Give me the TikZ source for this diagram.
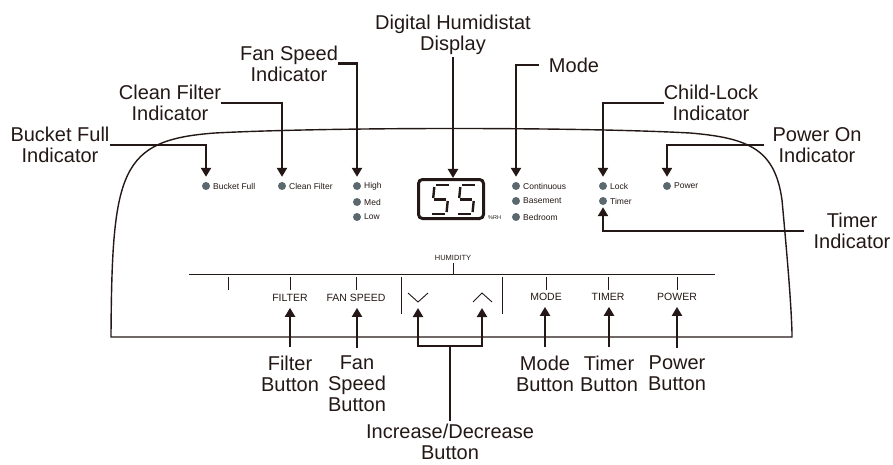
\documentclass[tikz,border=0pt]{standalone}
\usepackage{fontspec}
\setmainfont{Liberation Sans}
\usetikzlibrary{arrows.meta}
\definecolor{ink}{RGB}{35,24,21}
\definecolor{dotgray}{RGB}{92,104,112}
\begin{document}
\begin{tikzpicture}[x=1pt,y=-1pt,
  lbl/.style={font=\fontsize{20}{21}\selectfont, align=center, inner sep=0pt, text=ink},
  sml/.style={font=\fontsize{8.5}{10}\selectfont, inner sep=0pt, anchor=west, text=ink},
  btn/.style={font=\fontsize{10.5}{12}\selectfont, inner sep=0pt, text=ink},
  dot/.style={circle, fill=dotgray, minimum size=8pt, inner sep=0pt},
  lead/.style={draw=ink, line width=2.5pt, -{Triangle[width=10pt,length=9pt]}},
  leadline/.style={draw=ink, line width=2.5pt},
  panel/.style={draw=ink, line width=1.4pt},
  fine/.style={draw=ink, line width=0.9pt},
  seg/.style={draw=ink, line width=2.4pt},
]
\useasboundingbox (0,0) rectangle (893,465);

% panel outline
\draw[panel] (111,336) .. controls (112,170) and (120,140) .. (215,133)
  .. controls (330,127) and (580,127) .. (690,133)
  .. controls (750,138) and (775,150) .. (782,200)
  .. controls (787,255) and (791,300) .. (792,333) -- (792,337) -- (111,337) -- cycle;

% top labels
\node[lbl] (dhl) at (453,35) {Digital Humidistat\\Display};
\node[lbl] (fsl) at (289,63.5) {Fan Speed\\Indicator};
\node[lbl] (cfl) at (170,103) {Clean Filter\\Indicator};
\node[lbl] (bfl) at (60,145) {Bucket Full\\Indicator};
\node[lbl] (model) at (574,65) {Mode};
\node[lbl] (cll) at (711,103) {Child-Lock\\Indicator};
\node[lbl] (pol) at (817,145) {Power On\\Indicator};
\node[lbl] (til) at (852,231) {Timer\\Indicator};

% indicator dots
\node[dot] (bfd) at (206,186) {};
\node[sml] (bft) at ([xshift=7pt]bfd.center) {Bucket Full};
\node[dot] (cfd) at (282,186) {};
\node[sml] (cft) at ([xshift=7pt]cfd.center) {Clean Filter};
\node[dot] (hid) at (357,186) {};
\node[sml] (hit) at ([xshift=7pt]hid.center) {High};
\node[dot] (med) at (357,202) {};
\node[sml] (met) at ([xshift=7pt]med.center) {Med};
\node[dot] (lwd) at (357,217) {};
\node[sml] (lwt) at ([xshift=7pt]lwd.center) {Low};
\node[dot] (cod) at (516,186) {};
\node[sml] (cot) at ([xshift=7pt]cod.center) {Continuous};
\node[dot] (bad) at (516,201) {};
\node[sml] (bat) at ([xshift=7pt]bad.center) {Basement};
\node[dot] (bed) at (516,217) {};
\node[sml] (bet) at ([xshift=7pt]bed.center) {Bedroom};
\node[dot] (lod) at (603,186) {};
\node[sml] (lot) at ([xshift=7pt]lod.center) {Lock};
\node[dot] (tid) at (603,201) {};
\node[sml] (tit) at ([xshift=7pt]tid.center) {Timer};
\node[dot] (pod) at (667,186) {};
\node[sml] (pot) at ([xshift=7pt]pod.center) {Power};

% display
\node[draw=ink, line width=3pt, rounded corners=4pt, minimum width=65pt, minimum height=39pt, inner sep=0pt] (disp) at (451,199) {};
\node[font=\fontsize{5.5}{6}\selectfont, anchor=west, inner sep=0pt, text=ink] (rh) at (488,218) {\%RH};
\foreach \dx in {431,457}{
  \begin{scope}[shift={(\dx,214)}, xslant=0.1]
    \draw[seg] (2,-29) -- (15,-29);
    \draw[seg] (0.6,-27) -- (0.6,-16);
    \draw[seg] (2,-14.5) -- (14,-14.5);
    \draw[seg] (15.4,-13) -- (15.4,-2);
    \draw[seg] (1,0) -- (14,0);
  \end{scope}
}

% leaders to indicators
\draw[lead, shorten >=5pt] (bfl.east) -| (bfd.north);
\draw[lead, shorten >=5pt] (cfl.east) -| (cfd.north);
\draw[lead, shorten >=5pt] (fsl.east) -| (hid.north);
\draw[lead] ([yshift=-2pt]dhl.south) -- (dhl.south |- disp.north);
\draw[lead, shorten >=5pt] ([xshift=-10pt]model.west) -| (cod.north);
\draw[lead, shorten >=5pt] (cll.west) -| (lod.north);
\draw[lead, shorten >=5pt] ([xshift=-8pt]pol.west) -| (pod.north);
\draw[lead, shorten >=2pt] ([xshift=-9pt]til.west) -| (tid.south);

% control strip
\draw[fine] (189,274) -- (715,274);
\node[font=\fontsize{7.5}{9}\selectfont, inner sep=0pt, text=ink] (hum) at (453,258) {HUMIDITY};
\draw[fine] (453,263) -- (453,274);
\foreach \tx in {228,290,356,546,608,677}{ \draw[fine] (\tx,277) -- (\tx,290); }
\draw[fine] (401,277) -- (401,314);
\draw[fine] (502,277) -- (502,314);
\node[btn] (filt) at (290,298) {FILTER};
\node[btn] (fans) at (356,298) {FAN SPEED};
\node[btn] (modb) at (546,297) {MODE};
\node[btn] (timb) at (608,297) {TIMER};
\node[btn] (powb) at (677,297) {POWER};
\coordinate (dnc) at (418,302);
\coordinate (upc) at (482,302);
\draw[fine] (408,293) -- (dnc) -- (428,293);
\draw[fine] (473,302) -- (482,293) -- (492,302);

% bottom labels
\node[lbl] (fbl) at (290,373.5) {Filter\\Button};
\node[lbl] (fsbl) at (357,384) {Fan\\Speed\\Button};
\node[lbl] (idl) at (450,442) {Increase/Decrease\\Button};
\node[lbl] (mbl) at (545,373.5) {Mode\\Button};
\node[lbl] (tbl) at (609,373.5) {Timer\\Button};
\node[lbl] (pbl) at (677,373.5) {Power\\Button};

% leaders to buttons
\draw[lead, shorten >=6pt] ([yshift=8pt]fbl.north) -- (fbl.north |- filt.south);
\draw[lead, shorten >=6pt] ([yshift=8pt]fsbl.north) -- (fsbl.north |- fans.south);
\draw[lead, shorten >=6pt] ([yshift=8pt]mbl.north) -- (mbl.north |- modb.south);
\draw[lead, shorten >=6pt] ([yshift=8pt]tbl.north) -- (tbl.north |- timb.south);
\draw[lead, shorten >=6pt] ([yshift=8pt]pbl.north) -- (pbl.north |- powb.south);
\coordinate (junc) at (450,346);
\draw[leadline] ([yshift=3pt]idl.north) -- (junc);
\draw[lead, shorten >=6pt] (junc) -| (dnc);
\draw[lead, shorten >=6pt] (junc) -| (upc);
\end{tikzpicture}
\end{document}
